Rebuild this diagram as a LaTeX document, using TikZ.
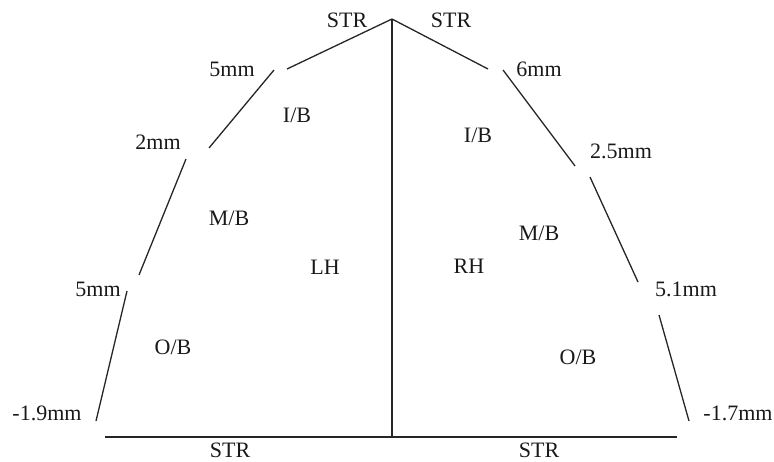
\documentclass[tikz,border=0pt]{standalone}
\usepackage{fontspec}
\setmainfont{Liberation Serif}
\begin{document}
\begin{tikzpicture}[x=1pt,y=-1pt,
  seg/.style={line width=1.3pt,black!85},
  lbl/.style={inner sep=0pt,font=\fontsize{22}{24}\selectfont,text=black!90}]
\useasboundingbox (0,0) rectangle (774,462);
% coordinates
\coordinate (apex) at (392,19);
\coordinate (base) at (392,437);
\coordinate (bl) at (105,437);
\coordinate (br) at (677,437);
\coordinate (l1) at (287,69);
\coordinate (l2a) at (274,70);
\coordinate (l2b) at (209,148);
\coordinate (l3a) at (186,159);
\coordinate (l3b) at (139,275);
\coordinate (l4a) at (127,291);
\coordinate (l4b) at (96,421);
\coordinate (r1) at (488,69);
\coordinate (r2a) at (503,70);
\coordinate (r2b) at (575,166);
\coordinate (r3a) at (590,177);
\coordinate (r3b) at (638,282);
\coordinate (r4a) at (659,315);
\coordinate (r4b) at (689,421);
% lines
\draw[seg] (apex) -- (base);
\draw[seg] (bl) -- (br);
\draw[seg] (apex) -- (l1);
\draw[seg] (l2a) -- (l2b);
\draw[seg] (l3a) -- (l3b);
\draw[seg] (l4a) -- (l4b);
\draw[seg] (apex) -- (r1);
\draw[seg] (r2a) -- (r2b);
\draw[seg] (r3a) -- (r3b);
\draw[seg] (r4a) -- (r4b);
% labels
\node[lbl] (strtl) at (347,20) {STR};
\node[lbl] (strtr) at (451,20) {STR};
\node[lbl] (l5mm) at (232,69) {5mm};
\node[lbl] (lib) at (297,115) {I/B};
\node[lbl] (l2mm) at (158,142) {2mm};
\node[lbl] (lmb) at (229,218) {M/B};
\node[lbl] (lh) at (325,267) {LH};
\node[lbl] (l5mmb) at (98,289) {5mm};
\node[lbl] (lob) at (173,347) {O/B};
\node[lbl] (lneg) at (47,413) {-1.9mm};
\node[lbl] (strbl) at (230,450) {STR};
\node[lbl] (r6mm) at (539,69) {6mm};
\node[lbl] (rib) at (478,135) {I/B};
\node[lbl] (r25mm) at (621,151) {2.5mm};
\node[lbl] (rmb) at (539,233) {M/B};
\node[lbl] (rh) at (469,266) {RH};
\node[lbl] (r51mm) at (686,289) {5.1mm};
\node[lbl] (rob) at (578,357) {O/B};
\node[lbl] (rneg) at (738,413) {-1.7mm};
\node[lbl] (strbr) at (539,450) {STR};
\end{tikzpicture}
\end{document}
